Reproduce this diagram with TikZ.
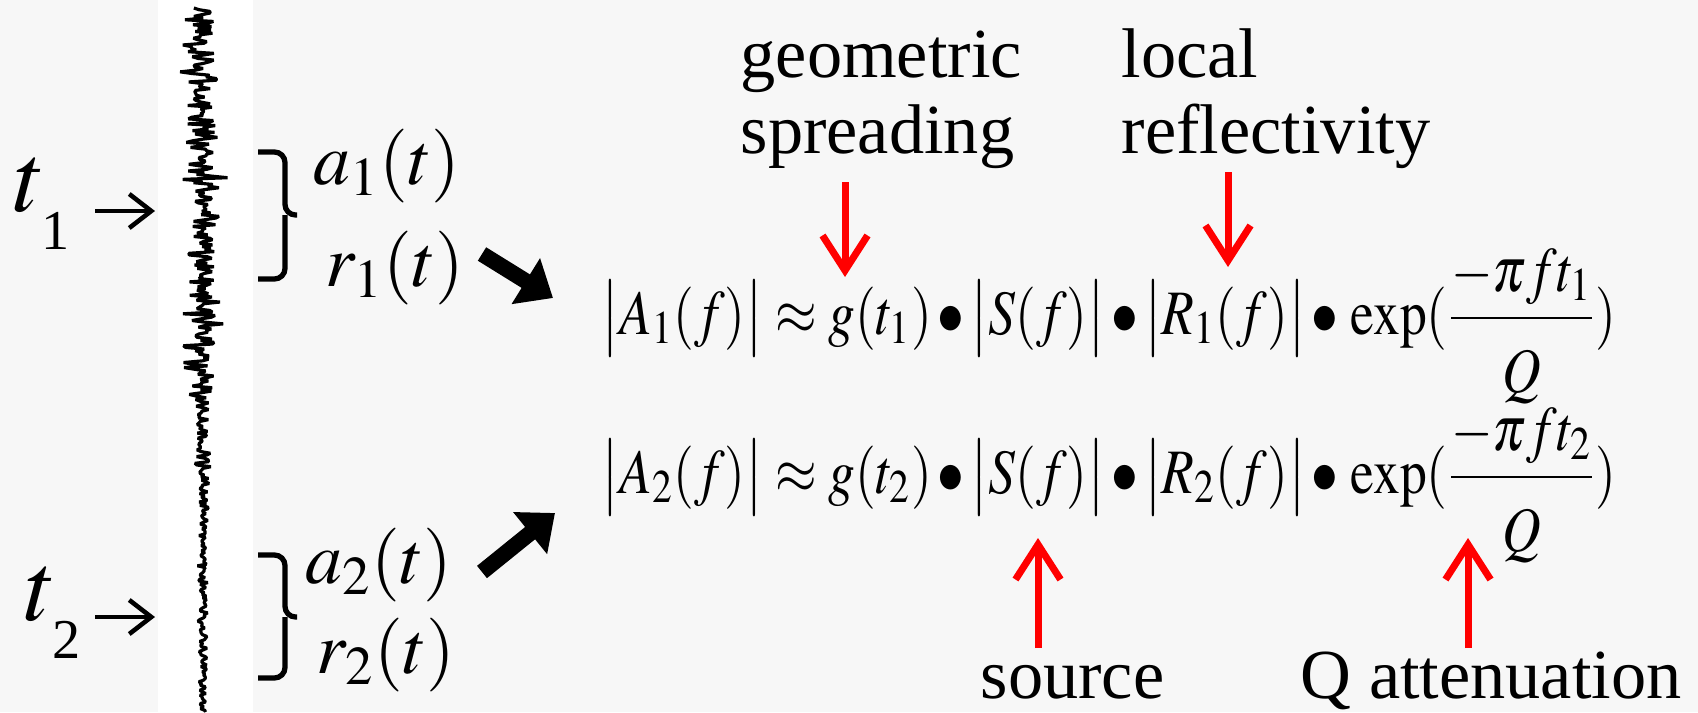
\documentclass[tikz,border=0pt]{standalone}
\usepackage{amsmath}
\usepackage{mathptmx}
\usepackage{graphicx}
\usepackage[no-math]{fontspec}
\setmainfont{Liberation Serif}
\usepackage{xcolor}
\usetikzlibrary{arrows.meta,positioning,calc}

\newcommand{\dotop}{\mkern2mu{\bullet}\mkern2mu}
\newcommand{\absv}[1]{\bigl|#1\bigr|}
\newcommand{\ampeq}[1]{\resizebox{10.14cm}{\height}{$\absv{A_#1(f)}\approx g(t_#1)\dotop\absv{S(f)}\dotop\absv{R_#1(f)}\dotop\exp(\dfrac{-\pi f t_#1}{\rule{0pt}{18.5pt}Q})$}}

\begin{document}
\begin{tikzpicture}[x=0.01cm,y=-0.01cm,>=Stealth]
\tikzstyle{eqn}=[inner sep=0pt,font=\fontsize{18}{22}\selectfont]
\tikzstyle{lbl}=[inner sep=0pt,align=left,font=\fontsize{20}{21.5}\selectfont]
\tikzstyle{tlbl}=[inner sep=0pt,font=\fontsize{28}{30}\selectfont]
\tikzstyle{redarr}=[draw=red,line width=2pt,-{Straight Barb[length=3.5mm,width=4.5mm,line width=2pt]}]
\tikzstyle{blkarr}=[draw=black,line width=4.5pt,-{Triangle[length=3.2mm,width=5.2mm]}]
\tikzstyle{brc}=[draw=black,line width=1.5pt,rounded corners=3pt]
\tikzstyle{tarr}=[draw=black,line width=1.3pt,-{Straight Barb[length=2.2mm,width=3.4mm,line width=1.3pt]}]
% frame and trace strip
\fill[black!3] (0,0) rectangle (1698,712);
\useasboundingbox (0,0) rectangle (1698,712);
\fill[white] (158,0) rectangle (253,712);
\pgfmathsetseed{23}
\draw[line width=0.9pt,line join=bevel] plot[variable=\t,domain=8:712,samples=420]
  ({203+((\t<405)*38+(\t>=405)*(\t<470)*20+(\t>=470)*12)*(0.3*rand+0.7*rand*rand*rand)},\t);
% times
\node[tlbl,anchor=base west] (tone) at (13,211) {$t$\kern-1pt\raisebox{-11pt}{\fontsize{16}{16}\selectfont 1}};
\node[tlbl,anchor=base west] (ttwo) at (24,620) {$t$\kern-1pt\raisebox{-11pt}{\fontsize{16}{16}\selectfont 2}};
\coordinate (hitone) at (155,211);
\coordinate (hittwo) at (155,617);
\draw[tarr] (95,211) -- (hitone);
\draw[tarr] (95,617) -- (hittwo);
% braces
\draw[brc] (258,152) -| (285,215) -- (297,215);
\draw[brc] (258,279) -| (285,215);
\draw[brc] (258,555) -| (285,617) -- (297,617);
\draw[brc] (258,678) -| (285,617);
\node[eqn,font=\fontsize{21}{25}\selectfont] (aone) at (387,166) {$a_1(t)$};
\node[eqn,font=\fontsize{21}{25}\selectfont] (rone) at (395,268) {$r_1(t)$};
\node[eqn,font=\fontsize{21}{25}\selectfont] (atwo) at (379,565) {$a_2(t)$};
\node[eqn,font=\fontsize{21}{25}\selectfont] (rtwo) at (386,655) {$r_2(t)$};
% equations
\node[eqn,anchor=base west] (eqone) at (601,334) {\ampeq{1}};
\node[eqn,anchor=base west] (eqtwo) at (601,493) {\ampeq{2}};
\coordinate (outone) at (482,254);
\coordinate (outtwo) at (482,572);
\coordinate (inone) at (553,298);
\coordinate (intwo) at (555,513);
\draw[blkarr] (outone) -- (inone);
\draw[blkarr] (outtwo) -- (intwo);
% labels
\node[lbl,anchor=base west] (geo) at (740,153) {geometric\\spreading};
\node[lbl,anchor=base west] (refl) at (1121,153) {local\\reflectivity};
\node[lbl,anchor=base west] (src) at (980,698) {source};
\node[lbl,anchor=base west] (qatt) at (1300,698) {Q attenuation};
\coordinate (gtip) at (845,277);
\coordinate (rtip) at (1228,267);
\coordinate (stip) at (1038,538);
\coordinate (qtip) at (1468,538);
\draw[redarr] (845,182) -- (gtip);
\draw[redarr] (1228,172) -- (rtip);
\draw[redarr] (1038,648) -- (stip);
\draw[redarr] (1468,648) -- (qtip);
\end{tikzpicture}
\end{document}
